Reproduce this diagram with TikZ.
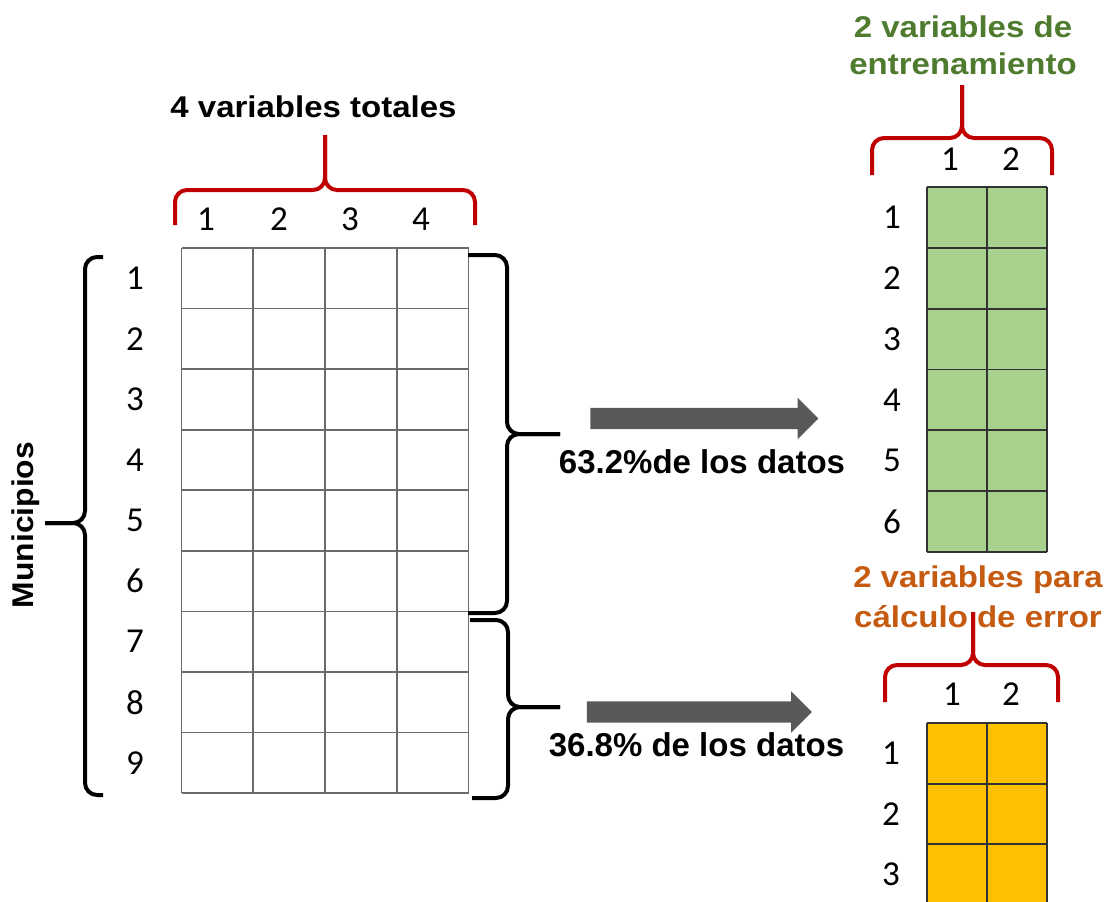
\documentclass[tikz,border=0pt]{standalone}
\usepackage{fontspec}
\usepackage{graphicx}
\setmainfont{Liberation Sans}
\newfontfamily\digitfont{Carlito}
\usetikzlibrary{shapes.arrows}

\definecolor{braceRed}{HTML}{C00000}
\definecolor{trainGreen}{HTML}{A9D18E}
\definecolor{errGold}{HTML}{FFC000}
\definecolor{titleGreen}{HTML}{4F7B2F}
\definecolor{titleOrange}{HTML}{C55A11}
\definecolor{arrowGray}{HTML}{595959}
\definecolor{cellLine}{HTML}{6A6A6A}
\definecolor{tableLine}{HTML}{333333}

% horizontally widened text
\newcommand\hwide[2][1.1]{\scalebox{#1}[1]{#2}}

\begin{document}
\begin{tikzpicture}[x=1pt,y=-1pt,
  idx/.style={font=\digitfont\fontsize{35}{35}\selectfont, inner sep=0pt, anchor=center},
  heading/.style={font=\bfseries\fontsize{30}{37}\selectfont, align=center, inner sep=0pt},
  share/.style={font=\bfseries\fontsize{33}{33}\selectfont, inner sep=0pt, anchor=base},
  redbrace/.style={draw=braceRed, line width=4pt, rounded corners=12pt},
  blackbrace/.style={draw=black, line width=4pt, rounded corners=12pt},
  cellgrid/.style={draw=cellLine, line width=1.7pt},
  tablegrid/.style={draw=tableLine, line width=1.8pt},
  blockarrow/.style={single arrow, fill=arrowGray, draw=none,
    text height=0pt, text depth=0pt, inner xsep=0pt, inner ysep=10.5pt,
    single arrow head extend=10pt, single arrow head indent=0pt,
    shape border rotate=0}]

\useasboundingbox (0,0) rectangle (1117,902);
\clip (0,0) rectangle (1117,902);

% ---------- full data table: 9 municipios x 4 variables ----------
\foreach \i in {0,...,4}
  \draw[cellgrid] ({181.5+71.75*\i},248) -- ({181.5+71.75*\i},793);
\foreach \j in {0,...,9}
  \draw[cellgrid] (181.5,{248+60.56*\j}) -- (468.5,{248+60.56*\j});

\foreach \r in {1,...,9}
  \node[idx] (row\r) at (135,{248+60.56*(\r-0.5)}) {\r};
\node[idx] (col1) at (206,219) {1};
\node[idx] (col2) at (279,219) {2};
\node[idx] (col3) at (350,219) {3};
\node[idx] (col4) at (421,219) {4};

\node[heading, anchor=base] (allvars) at (313.5,117) {\hwide{4 variables totales}};
\draw[redbrace] (175,225) -- (175,190) -- (325,190) -- (325,135);
\draw[redbrace] (475,225) -- (475,190) -- (325,190) -- (325,135);

% municipios brace
\node[heading, rotate=90] (muni) at (26,525) {\hwide[1.06]{Municipios}};
\coordinate (muniTip) at (45,523);
\draw[blackbrace] (103,257) -- (85,257) -- (85,523) -- (muniTip);
\draw[blackbrace] (103,795) -- (85,795) -- (85,523) -- (muniTip);

% split braces
\coordinate (trainTip) at (560,434);
\coordinate (errTip) at (560,707);
\draw[blackbrace] (468,255) -- (507,255) -- (507,434) -- (trainTip);
\draw[blackbrace] (468,613) -- (507,613) -- (507,434) -- (trainTip);
\draw[blackbrace] (470,620) -- (508,620) -- (508,707) -- (errTip);
\draw[blackbrace] (472,798) -- (508,798) -- (508,707) -- (errTip);

% ---------- arrows ----------
\node[blockarrow, minimum height=228pt] (arrTrain) at (699,418.5) {};
\node[blockarrow, minimum height=225pt] (arrErr) at (694,712) {};
\node[share] (pctTrain) at (702,473) {63.2\%de los datos};
\node[share] (pctErr) at (696.5,756) {36.8\% de los datos};

% ---------- training table ----------
\fill[trainGreen] (927,187) rectangle (1047,552);
\foreach \x in {927,987,1047}
  \draw[tablegrid] (\x,187) -- (\x,552);
\foreach \j in {0,...,6}
  \draw[tablegrid] (927,{187+60.83*\j}) -- (1047,{187+60.83*\j});
\foreach \r in {1,...,6}
  \node[idx] (trow\r) at (892,{187+60.83*(\r-0.5)}) {\r};
\node[idx] (tcol1) at (950,159) {1};
\node[idx] (tcol2) at (1011,159) {2};

\node[heading, anchor=north, text=titleGreen] (trainTitle) at (963,16)
  {\hwide{2 variables de}\\\hwide{entrenamiento}};
\draw[redbrace] (872,175) -- (872,138) -- (962,138) -- (962,85);
\draw[redbrace] (1052,175) -- (1052,138) -- (962,138) -- (962,85);

% ---------- error table ----------
\fill[errGold] (927,723) rectangle (1047,920);
\foreach \x in {927,987,1047}
  \draw[tablegrid] (\x,723) -- (\x,920);
\foreach \j in {0,...,3}
  \draw[tablegrid] (927,{723+60.6*\j}) -- (1047,{723+60.6*\j});
\foreach \r in {1,...,3}
  \node[idx] (erow\r) at (891,{723+60.6*(\r-0.5)}) {\r};
\node[idx] (ecol1) at (952,694) {1};
\node[idx] (ecol2) at (1011,694) {2};

\node[heading, anchor=north, text=titleOrange, font=\bfseries\fontsize{30}{40}\selectfont]
  (errTitle) at (978,566)
  {\hwide{2 variables para}\\\hwide{cálculo de error}};
\draw[redbrace] (885,702) -- (885,665) -- (973,665) -- (973,612);
\draw[redbrace] (1058,702) -- (1058,665) -- (973,665) -- (973,612);

\end{tikzpicture}
\end{document}
